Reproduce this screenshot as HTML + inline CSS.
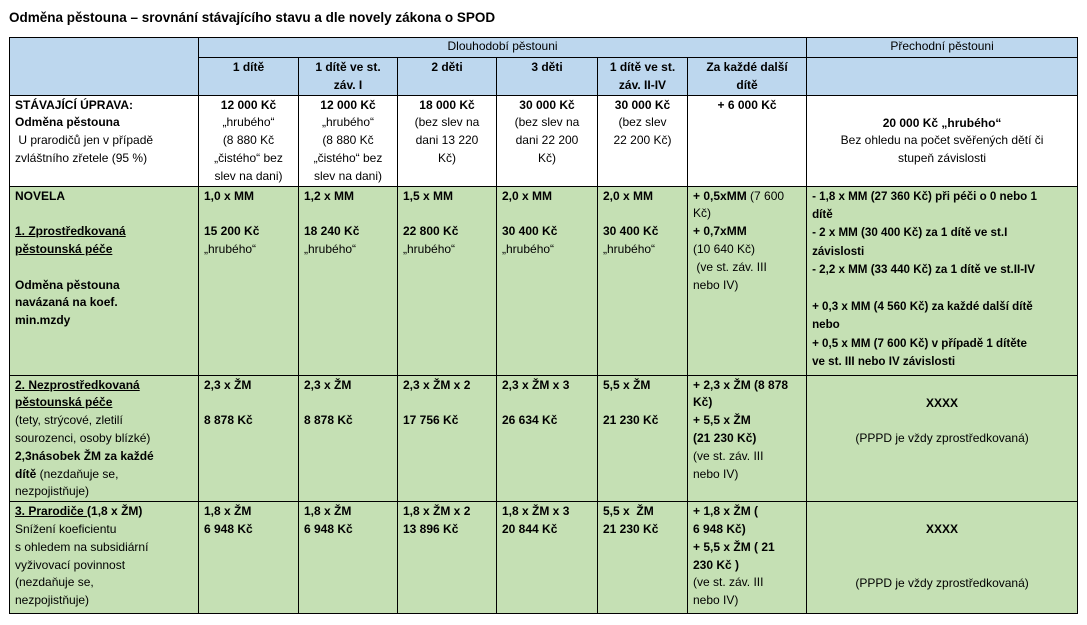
<!DOCTYPE html>
<html><head><meta charset="utf-8"><style>
body{margin:0;width:1087px;height:625px;background:#fff;font-family:"Liberation Sans",sans-serif;position:relative;overflow:hidden}
.t{position:absolute;left:9px;top:10px;font-weight:bold;font-size:13.5px}
table{position:absolute;left:9px;top:37px;border-collapse:collapse;table-layout:fixed;width:1068px}
td{border:1px solid #000;vertical-align:top;padding:1px 5px 0 5px;font-size:12px;line-height:17.8px;white-space:nowrap;overflow:visible}
.b{background:#bdd7ee}
.g{background:#c5e0b4}
.c{text-align:center}
b{font-weight:bold}
u{text-decoration:underline}
</style></head><body>
<div class="t">Odměna pěstouna – srovnání stávajícího stavu a dle novely zákona o SPOD</div>
<table>
<colgroup><col style="width:189px"><col style="width:100px"><col style="width:99px"><col style="width:99px"><col style="width:101px"><col style="width:90px"><col style="width:119px"><col style="width:271px"></colgroup>
<tr style="height:20px" class="b"><td rowspan="2"></td><td colspan="6" class="c" style="padding-top:0">Dlouhodobí pěstouni</td><td class="c" style="padding-top:0">Přechodní pěstouni</td></tr>
<tr style="height:37px" class="b"><td class="c"><b>1 dítě</b></td><td class="c"><b>1 dítě ve st.<br>záv. I</b></td><td class="c"><b>2 děti</b></td><td class="c"><b>3 děti</b></td><td class="c"><b>1 dítě ve st.<br>záv. II-IV</b></td><td class="c"><b>Za každé další<br>dítě</b></td><td></td></tr>
<tr style="height:91px"><td><b>STÁVAJÍCÍ ÚPRAVA:<br>Odměna pěstouna</b><br>&nbsp;U prarodičů jen v případě<br>zvláštního zřetele (95 %)</td>
<td class="c"><b>12 000 Kč</b><br>„hrubého“<br>(8 880 Kč<br>„čistého“ bez<br>slev na dani)</td>
<td class="c"><b>12 000 Kč</b><br>„hrubého“<br>(8 880 Kč<br>„čistého“ bez<br>slev na dani)</td>
<td class="c"><b>18 000 Kč</b><br>(bez slev na<br>dani 13 220<br>Kč)</td>
<td class="c"><b>30 000 Kč</b><br>(bez slev na<br>dani 22 200<br>Kč)</td>
<td class="c"><b>30 000 Kč</b><br>(bez slev<br>22 200 Kč)</td>
<td class="c"><b>+ 6 000 Kč</b></td>
<td class="c" style="padding-top:19px"><b>20 000 Kč „hrubého“</b><br>Bez ohledu na počet svěřených dětí či<br>stupeň závislosti</td></tr>
<tr style="height:189px" class="g"><td><b>NOVELA<br><br><u>1. Zprostředkovaná<br>pěstounská péče</u><br><br>Odměna pěstouna<br>navázaná na koef.<br>min.mzdy</b></td>
<td><b>1,0 x MM<br><br>15 200 Kč</b><br>„hrubého“</td>
<td><b>1,2 x MM<br><br>18 240 Kč</b><br>„hrubého“</td>
<td><b>1,5 x MM<br><br>22 800 Kč</b><br>„hrubého“</td>
<td><b>2,0 x MM<br><br>30 400 Kč</b><br>„hrubého“</td>
<td><b>2,0 x MM<br><br>30 400 Kč</b><br>„hrubého“</td>
<td><b>+ 0,5xMM</b> (7 600<br>Kč)<br><b>+ 0,7xMM</b><br>(10 640 Kč)<br>&nbsp;(ve st. záv. III<br>nebo IV)</td>
<td style="font-size:11.6px;line-height:18.4px"><b>- 1,8 x MM (27 360 Kč) při péči o 0 nebo 1<br>dítě<br>- 2 x MM (30 400 Kč) za 1 dítě ve st.I<br>závislosti<br>- 2,2 x MM (33 440 Kč) za 1 dítě ve st.II-IV<br><br>+ 0,3 x MM (4 560 Kč) za každé další dítě<br>nebo<br>+ 0,5 x MM (7 600 Kč) v případě 1 dítěte<br>ve st. III nebo IV závislosti</b></td></tr>
<tr style="height:125px" class="g"><td><b><u>2. Nezprostředkovaná<br>pěstounská péče</u></b><br>(tety, strýcové, zletilí<br>sourozenci, osoby blízké)<br><b>2,3násobek ŽM za každé<br>dítě</b> (nezdaňuje se,<br>nezpojistňuje)</td>
<td><b>2,3 x ŽM<br><br>8 878 Kč</b></td>
<td><b>2,3 x ŽM<br><br>8 878 Kč</b></td>
<td><b>2,3 x ŽM x 2<br><br>17 756 Kč</b></td>
<td><b>2,3 x ŽM x 3<br><br>26 634 Kč</b></td>
<td><b>5,5 x ŽM<br><br>21 230 Kč</b></td>
<td><b>+ 2,3 x ŽM (8 878<br>Kč)<br>+ 5,5 x ŽM<br>(21 230 Kč)</b><br>(ve st. záv. III<br>nebo IV)</td>
<td class="c" style="padding-top:19px"><b>XXXX</b><br><br>(PPPD je vždy zprostředkovaná)</td></tr>
<tr style="height:112px" class="g"><td><b><u>3. Prarodiče </u>(1,8 x ŽM)</b><br>Snížení koeficientu<br>s ohledem na subsidiární<br>vyživovací povinnost<br>(nezdaňuje se,<br>nezpojistňuje)</td>
<td><b>1,8 x ŽM<br>6 948 Kč</b></td>
<td><b>1,8 x ŽM<br>6 948 Kč</b></td>
<td><b>1,8 x ŽM x 2<br>13 896 Kč</b></td>
<td><b>1,8 x ŽM x 3<br>20 844 Kč</b></td>
<td><b>5,5 x &nbsp;ŽM<br>21 230 Kč</b></td>
<td><b>+ 1,8 x ŽM (<br>6 948 Kč)<br>+ 5,5 x ŽM ( 21<br>230 Kč )</b><br>(ve st. záv. III<br>nebo IV)</td>
<td class="c" style="padding-top:19px"><b>XXXX</b><br><br><br>(PPPD je vždy zprostředkovaná)</td></tr>
</table>
</body></html>
